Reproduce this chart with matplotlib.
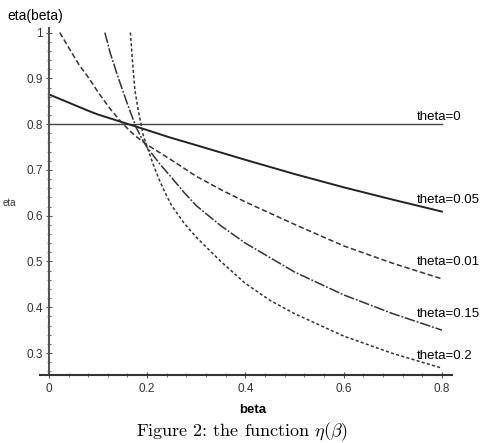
import matplotlib
matplotlib.use("Agg")
from matplotlib import pyplot as plt
from matplotlib.ticker import MultipleLocator

plt.rcParams['font.family'] = ['Liberation Sans', 'DejaVu Sans']
plt.rcParams['mathtext.fontset'] = 'cm'

# theta = 0
beta_0 = [0.0, 0.8]
eta_0 = [0.8, 0.8]

# theta = 0.05 (solid)
beta_005 = [0.0, 0.083, 0.1, 0.2, 0.246, 0.3, 0.4, 0.5, 0.6, 0.7, 0.8]
eta_005 = [0.865, 0.828, 0.821, 0.787, 0.771, 0.754, 0.722, 0.691, 0.662, 0.635, 0.609]

# theta = 0.01 (dashed)
beta_001 = [0.022, 0.04, 0.06, 0.083, 0.1, 0.125, 0.151, 0.175, 0.2, 0.246,
            0.3, 0.35, 0.4, 0.5, 0.6, 0.7, 0.8]
eta_001 = [1.0, 0.968, 0.932, 0.898, 0.870, 0.833, 0.800, 0.775, 0.755, 0.724,
           0.686, 0.657, 0.630, 0.581, 0.534, 0.496, 0.462]

# theta = 0.15 (dash-dot)
beta_015 = [0.114, 0.125, 0.138, 0.151, 0.165, 0.178, 0.19, 0.2, 0.225, 0.246,
            0.275, 0.3, 0.35, 0.4, 0.5, 0.6, 0.7, 0.8]
eta_015 = [1.0, 0.955, 0.912, 0.871, 0.829, 0.792, 0.767, 0.749, 0.714, 0.688,
           0.651, 0.622, 0.578, 0.540, 0.477, 0.427, 0.386, 0.350]

# theta = 0.2 (short dashes)
beta_02 = [0.166, 0.170, 0.175, 0.182, 0.192, 0.2, 0.213, 0.226, 0.239, 0.25,
           0.275, 0.3, 0.35, 0.4, 0.45, 0.5, 0.6, 0.7, 0.8]
eta_02 = [1.0, 0.94, 0.875, 0.83, 0.776, 0.750, 0.710, 0.675, 0.645, 0.622,
          0.584, 0.553, 0.500, 0.452, 0.415, 0.386, 0.337, 0.299, 0.267]

labels = ["theta=0", "theta=0.05", "theta=0.01", "theta=0.15", "theta=0.2"]
label_y = [0.815, 0.634, 0.499, 0.385, 0.293]

fig = plt.figure(figsize=(4.85, 4.43), dpi=100)
ax = fig.add_axes([0.0825, 0.1535, 0.849, 0.7833])

ax.plot(beta_0, eta_0, color='#444444', lw=1.0)
ax.plot(beta_005, eta_005, color='#222222', lw=1.4)
ax.plot(beta_001, eta_001, color='#333333', lw=1.1, dashes=(3.5, 1.8))
ax.plot(beta_015, eta_015, color='#333333', lw=1.1, dashes=(7, 1.2, 1.2, 1.2))
ax.plot(beta_02, eta_02, color='#333333', lw=1.1, dashes=(2, 1.5))

for lab, y in zip(labels, label_y):
    ax.text(0.748, y, lab, fontsize=9.5, ha='left', va='center')

ax.set_xlim(-0.018, 0.82)
ax.set_ylim(0.252, 1.01)
ax.spines['top'].set_visible(False)
ax.spines['right'].set_visible(False)
ax.spines['left'].set_position(('data', 0))
ax.spines['left'].set_linewidth(1.5)
ax.spines['bottom'].set_linewidth(1.5)
ax.spines['left'].set_color('#555555')
ax.spines['bottom'].set_color('#333333')

ax.xaxis.set_minor_locator(MultipleLocator(0.04))
ax.yaxis.set_minor_locator(MultipleLocator(0.02))
ax.set_xticks([0, 0.2, 0.4, 0.6, 0.8])
ax.set_xticklabels(['0', '0.2', '0.4', '0.6', '0.8'])
ax.set_yticks([0.3, 0.4, 0.5, 0.6, 0.7, 0.8, 0.9, 1.0])
ax.set_yticklabels(['0.3', '0.4', '0.5', '0.6', '0.7', '0.8', '0.9', '1'])
ax.tick_params(which='major', direction='inout', length=5, labelsize=8.5,
               labelcolor='#333333', color='#555555')
ax.tick_params(which='minor', direction='inout', length=3, color='#555555')
ax.tick_params(axis='x', pad=3)
ax.tick_params(axis='y', pad=2)

fig.text(0.016, 0.965, "eta(beta)", fontsize=10, ha='left', va='center')
fig.text(0.006, 0.542, "eta", fontsize=7, ha='left', va='center', color='#333333')
fig.text(0.522, 0.075, "beta", fontsize=9.5, ha='center', va='center', fontweight='bold')
fig.text(0.5, 0.025, r"Figure 2: the function $\eta(\beta)$",
         fontsize=13, ha='center', va='center', fontname='cmr10')

fig.savefig("out.png", dpi=100)
